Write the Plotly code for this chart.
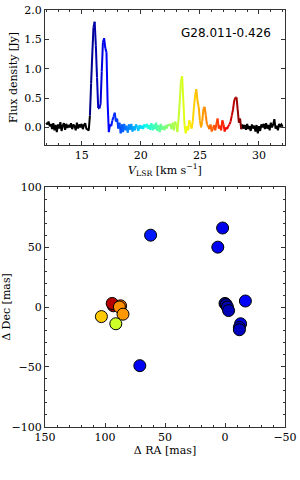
import plotly.graph_objects as go

# ---------------- data ----------------
velocity = [
    12.0, 12.1, 12.2, 12.3, 12.4, 12.5, 12.6, 12.7, 12.8, 12.9,
    13.0, 13.1, 13.2, 13.3, 13.4, 13.5, 13.6, 13.7, 13.8, 13.9,
    14.0, 14.1, 14.2, 14.3, 14.4, 14.5, 14.6, 14.7, 14.8, 14.9,
    15.0, 15.1, 15.2, 15.3, 15.4, 15.5, 15.6, 15.7, 15.8, 15.9,
    16.0, 16.1, 16.2, 16.3, 16.4, 16.5, 16.6, 16.7, 16.8, 16.9,
    17.0, 17.1, 17.2, 17.3, 17.4, 17.5, 17.6, 17.7, 17.8, 17.9,
    18.0, 18.1, 18.2, 18.3, 18.4, 18.5, 18.6, 18.7, 18.8, 18.9,
    19.0, 19.1, 19.2, 19.3, 19.4, 19.5, 19.6, 19.7, 19.8, 19.9,
    20.0, 20.1, 20.2, 20.3, 20.4, 20.5, 20.6, 20.7, 20.8, 20.9,
    21.0, 21.1, 21.2, 21.3, 21.4, 21.5, 21.6, 21.7, 21.8, 21.9,
    22.0, 22.1, 22.2, 22.3, 22.4, 22.5, 22.6, 22.7, 22.8, 22.9,
    23.0, 23.1, 23.2, 23.3, 23.4, 23.5, 23.6, 23.7, 23.8, 23.9,
    24.0, 24.1, 24.2, 24.3, 24.4, 24.5, 24.6, 24.7, 24.8, 24.9,
    25.0, 25.1, 25.2, 25.3, 25.4, 25.5, 25.6, 25.7, 25.8, 25.9,
    26.0, 26.1, 26.2, 26.3, 26.4, 26.5, 26.6, 26.7, 26.8, 26.9,
    27.0, 27.1, 27.2, 27.3, 27.4, 27.5, 27.6, 27.7, 27.8, 27.9,
    28.0, 28.1, 28.2, 28.3, 28.4, 28.5, 28.6, 28.7, 28.8, 28.9,
    29.0, 29.1, 29.2, 29.3, 29.4, 29.5, 29.6, 29.7, 29.8, 29.9,
    30.0, 30.1, 30.2, 30.3, 30.4, 30.5, 30.6, 30.7, 30.8, 30.9,
    31.0, 31.1, 31.2, 31.3, 31.4, 31.5, 31.6, 31.7, 31.8, 31.9,
    32.0,
]
flux = [
    0.08, 0.05, 0.10, 0.02, 0.06, -0.03, 0.07, -0.05, 0.04, -0.08,
    0.05, -0.02, 0.09, -0.06, 0.03, 0.07, -0.04, 0.06, -0.01, 0.04,
    0.00, 0.07, -0.03, 0.05, 0.02, -0.05, 0.08, -0.02, 0.05, 0.00,
    0.06, -0.03, 0.04, 0.07, -0.02, -0.04, -0.05, 0.20, 0.75, 1.25,
    1.70, 1.80, 1.40, 0.85, 0.33, 0.32, 0.40, 0.95, 1.45, 1.52,
    1.35, 1.28, 0.40, -0.08, 0.05, 0.02, 0.12, 0.18, 0.25, 0.10,
    0.15, -0.02, 0.08, -0.10, 0.05, -0.08, 0.06, -0.05, 0.03, -0.09,
    0.05, -0.04, 0.06, -0.07, 0.02, -0.05, 0.05, 0.00, -0.06, 0.04,
    -0.02, 0.03, -0.03, 0.05, 0.00, 0.06, -0.02, 0.04, -0.04, 0.07,
    -0.05, 0.05, -0.03, 0.08, -0.06, 0.04, -0.08, 0.06, -0.04, 0.02,
    -0.05, 0.04, -0.02, 0.05, 0.03, 0.06, -0.03, 0.08, -0.05, 0.10,
    0.05, -0.08, 0.15, 0.45, 0.80, 0.87, 0.45, 0.05, -0.10, 0.02,
    -0.05, 0.12, 0.05, -0.02, 0.10, 0.35, 0.55, 0.65, 0.45, 0.35,
    0.12, 0.00, 0.10, 0.32, 0.35, 0.20, 0.05, 0.02, -0.03, 0.05,
    -0.07, -0.02, 0.04, -0.05, 0.06, 0.15, -0.02, 0.03, -0.05, 0.12,
    0.05, -0.07, 0.00, -0.03, 0.02, 0.05, 0.10, 0.20, 0.30, 0.45,
    0.51, 0.51, 0.30, 0.08, 0.15, -0.03, 0.05, -0.02, 0.04, -0.04,
    0.06, -0.03, 0.02, -0.06, 0.05, -0.02, 0.03, -0.07, 0.04, -0.10,
    0.02, -0.06, 0.05, 0.00, 0.06, -0.03, 0.07, -0.02, 0.04, -0.05,
    0.08, 0.00, 0.05, 0.14, -0.02, 0.03, -0.05, 0.06, 0.02, 0.05,
    0.01,
]
v_min = 15.7   # start of coloured velocity range
v_max = 28.5   # end of coloured velocity range

spot_ra = [62, 2, 6, 71, -17, 0, -1, -2, -3, -13, -12, -12, 93, 94, 87, 88, 85, 103, 91]
spot_dec = [60, 66, 50, -49, 5, 3, 2, 0, -3, -14, -17, -19, 1, 3, 1, 0, -6, -8, -14]
spot_v = [17.6, 16.9, 17.0, 17.0, 17.3, 15.8, 16.0, 16.2, 16.3, 16.8, 16.5, 16.4,
          28.3, 27.9, 25.8, 25.4, 25.3, 24.6, 23.4]

source_name = "G28.011-0.426"

# ---------------- jet colormap ----------------
_jet = {
    "r": [(0, 0), (0.35, 0), (0.66, 1), (0.89, 1), (1, 0.5)],
    "g": [(0, 0), (0.125, 0), (0.375, 1), (0.64, 1), (0.91, 0), (1, 0)],
    "b": [(0, 0.5), (0.11, 1), (0.34, 1), (0.65, 0), (1, 0)],
}


def _interp(pts, t):
    for (x0, y0), (x1, y1) in zip(pts[:-1], pts[1:]):
        if x0 <= t <= x1:
            return y0 + (y1 - y0) * (t - x0) / (x1 - x0)
    return pts[-1][1]


def jet(t):
    t = min(max(t, 0.0), 1.0)
    r, g, b = (_interp(_jet[c], t) for c in "rgb")
    return "rgb(%d,%d,%d)" % (round(r * 255), round(g * 255), round(b * 255))


stops = sorted({p[0] for c in _jet.values() for p in c})
jet_scale = [[s, jet(s)] for s in stops]

# ---------------- figure ----------------
fig = go.Figure()

i0 = velocity.index(v_min)
i1 = velocity.index(v_max)
fig.add_trace(go.Scatter(x=velocity[:i0 + 1], y=flux[:i0 + 1], mode="lines",
                         line=dict(color="black", width=2), xaxis="x", yaxis="y",
                         showlegend=False, hoverinfo="skip"))
fig.add_trace(go.Scatter(x=velocity[i1:], y=flux[i1:], mode="lines",
                         line=dict(color="black", width=2), xaxis="x", yaxis="y",
                         showlegend=False, hoverinfo="skip"))
for i in range(i0, i1):
    vm = 0.5 * (velocity[i] + velocity[i + 1])
    col = jet((vm - v_min) / (v_max - v_min))
    fig.add_trace(go.Scatter(x=velocity[i:i + 2], y=flux[i:i + 2], mode="lines",
                             line=dict(color=col, width=2), xaxis="x", yaxis="y",
                             showlegend=False, hoverinfo="skip"))

fig.add_trace(go.Scatter(
    x=spot_ra, y=spot_dec, mode="markers", xaxis="x2", yaxis="y2", showlegend=False,
    marker=dict(size=12, color=spot_v, colorscale=jet_scale, cmin=v_min, cmax=v_max,
                line=dict(color="black", width=1)),
))

tickfont = dict(family="DejaVu Serif", size=11, color="black")
titlefont = dict(family="DejaVu Serif", size=11, color="black")
common = dict(showline=True, linecolor="#333", linewidth=1, mirror="allticks",
              ticks="inside", ticklen=4, tickwidth=1, tickcolor="#333",
              showgrid=False, zeroline=False, tickfont=tickfont, automargin=False)

fig.update_layout(
    width=300, height=480,
    margin=dict(l=0, r=0, t=0, b=0, autoexpand=False),
    paper_bgcolor="white", plot_bgcolor="white",
    xaxis=dict(domain=[0.15, 0.95], anchor="y", range=[11.9, 32.2],
               tickvals=[15, 20, 25, 30],
               minor=dict(ticks="inside", ticklen=2, dtick=1, tick0=0, tickcolor="#333"),
               title=dict(text="<i>V</i><sub>LSR</sub> [km s<sup>−1</sup>]",
                          font=titlefont, standoff=2),
               **common),
    yaxis=dict(domain=[1 - 145 / 480, 1 - 10 / 480], anchor="x", range=[-0.3, 2.0],
               tickvals=[0, 0.5, 1.0, 1.5, 2.0], tickformat=".1f",
               title=dict(text="Flux density [Jy]", font=titlefont, standoff=4),
               **common),
    xaxis2=dict(domain=[0.15, 0.95], anchor="y2", range=[150, -50],
                tickvals=[150, 100, 50, 0, -50],
                minor=dict(ticks="inside", ticklen=2, dtick=10, tick0=0, tickcolor="#333"),
                title=dict(text="Δ RA [mas]", font=titlefont, standoff=2),
                **common),
    yaxis2=dict(domain=[1 - 426.7 / 480, 1 - 187.3 / 480], anchor="x2", range=[-100, 100],
                tickvals=[-100, -50, 0, 50, 100],
                minor=dict(ticks="inside", ticklen=2, dtick=10, tick0=0, tickcolor="#333"),
                title=dict(text="Δ Dec [mas]", font=titlefont, standoff=4),
                **common),
    annotations=[dict(text=source_name, x=0.91, y=1 - 33 / 480, xref="paper", yref="paper",
                      xanchor="right", yanchor="middle", showarrow=False,
                      font=dict(family="DejaVu Sans", size=12, color="black"))],
)

fig.write_html("out.html", config={"displayModeBar": False},
               post_script="document.body.style.margin='0';")
